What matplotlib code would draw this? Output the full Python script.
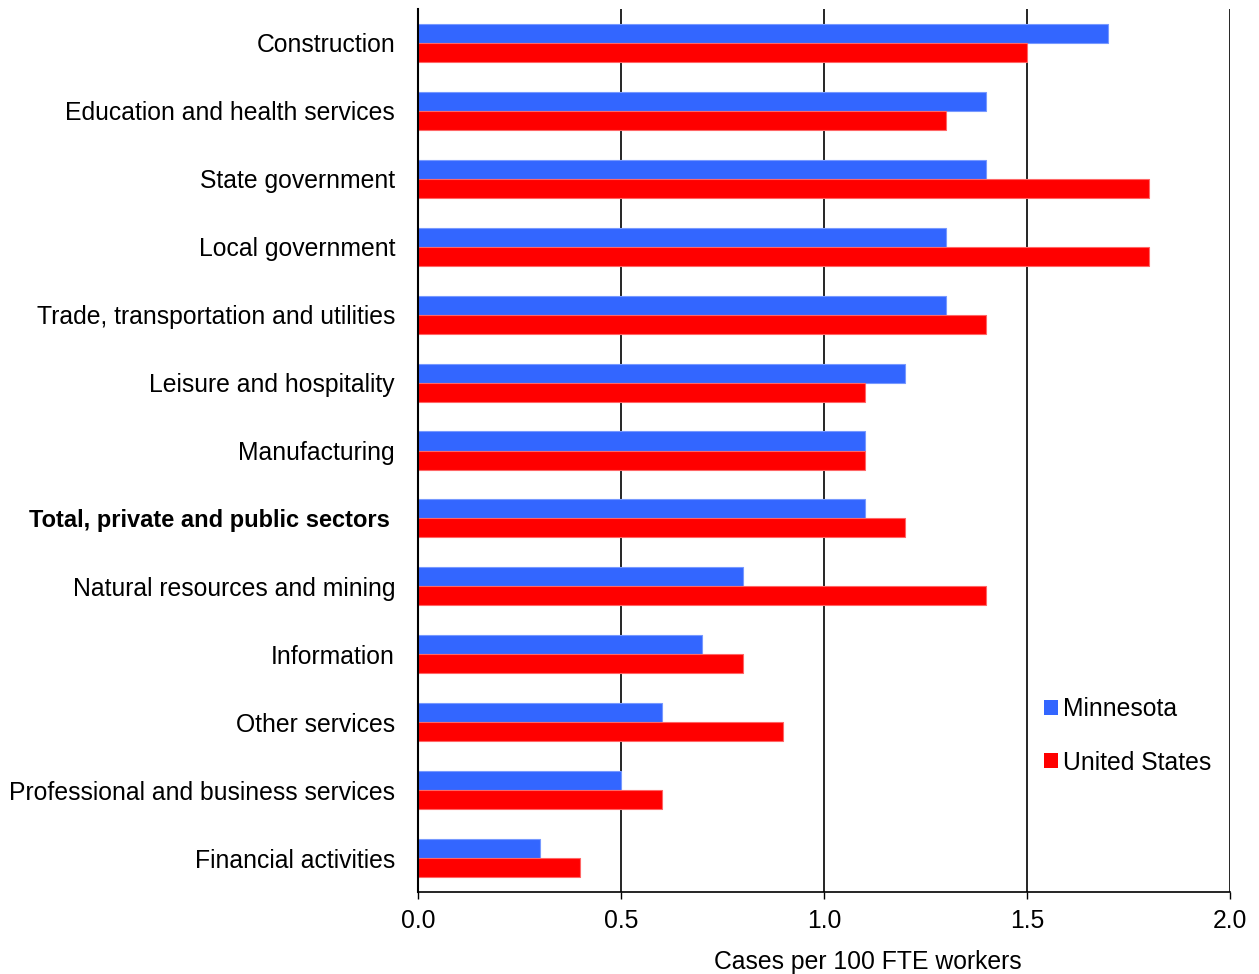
import matplotlib
matplotlib.use("Agg")
import matplotlib.pyplot as plt
import numpy as np
from matplotlib.patches import Patch

categories = [
    "Construction",
    "Education and health services",
    "State government",
    "Local government",
    "Trade, transportation and utilities",
    "Leisure and hospitality",
    "Manufacturing",
    "Total, private and public sectors",
    "Natural resources and mining",
    "Information",
    "Other services",
    "Professional and business services",
    "Financial activities",
]
minnesota = [1.7, 1.4, 1.4, 1.3, 1.3, 1.2, 1.1, 1.1, 0.8, 0.7, 0.6, 0.5, 0.3]
united_states = [1.5, 1.3, 1.8, 1.8, 1.4, 1.1, 1.1, 1.2, 1.4, 0.8, 0.9, 0.6, 0.4]
x_ticks = [0.0, 0.5, 1.0, 1.5, 2.0]

plt.rcParams["font.family"] = ["Liberation Sans", "DejaVu Sans"]

blue = "#3366FF"
red = "#FF0000"
fs = 17.8

fig = plt.figure(figsize=(12.59, 9.74), dpi=100)
ax = fig.add_axes([418 / 1259, 1 - 892 / 974, (1230 - 418) / 1259, (892 - 9) / 974])

n = len(categories)
y = np.arange(n)
h = 0.28
ax.barh(y - h / 2, minnesota, height=h, color=blue, edgecolor="#7799FF", linewidth=0.8, zorder=3)
ax.barh(y + h / 2, united_states, height=h, color=red, edgecolor="#FF6666", linewidth=0.8, zorder=3)

ax.set_ylim(n - 0.5, -0.5)
ax.set_xlim(0, 2.0)
ax.set_yticks(y)
labels = ax.set_yticklabels(categories, fontsize=fs)
for lab in labels:
    if lab.get_text().startswith("Total"):
        lab.set_fontweight("bold")
        lab.set_fontsize(17)
ax.tick_params(axis="y", length=0, pad=16.5)
ax.set_xticks(x_ticks)
ax.set_xticklabels([f"{v:.1f}" for v in x_ticks], fontsize=fs)
ax.tick_params(axis="x", length=5, width=1.0, direction="out", pad=7, color="black")

for v in x_ticks[1:]:
    ax.axvline(v, color="black", linewidth=1.2, zorder=1)

ax.spines["top"].set_visible(False)
ax.spines["right"].set_visible(False)
ax.spines["left"].set_linewidth(1.5)
ax.spines["bottom"].set_linewidth(1.2)
ax.spines["left"].set_zorder(4)

# nudge the bold total label a little further from the axis
fig.canvas.draw()
for lab in ax.get_yticklabels():
    if lab.get_text().startswith("Total"):
        lab.set_transform(lab.get_transform() + matplotlib.transforms.Affine2D().translate(-5, 0))

fig.text(868 / 1259, 1 - 962 / 974, "Cases per 100 FTE workers", fontsize=fs,
         ha="center", va="center")

handles = [Patch(facecolor=blue, edgecolor="none"), Patch(facecolor=red, edgecolor="none")]
ax.legend(handles, ["Minnesota", "United States"], loc="upper left",
          bbox_to_anchor=((1044 - 418) / (1230 - 418), (892 - 697) / (892 - 9)),
          frameon=False, fontsize=fs, handlelength=0.55, handleheight=0.55,
          handletextpad=0.2, labelspacing=1.2, borderaxespad=0, borderpad=0)

fig.savefig("out.png", dpi=100, facecolor="white")
